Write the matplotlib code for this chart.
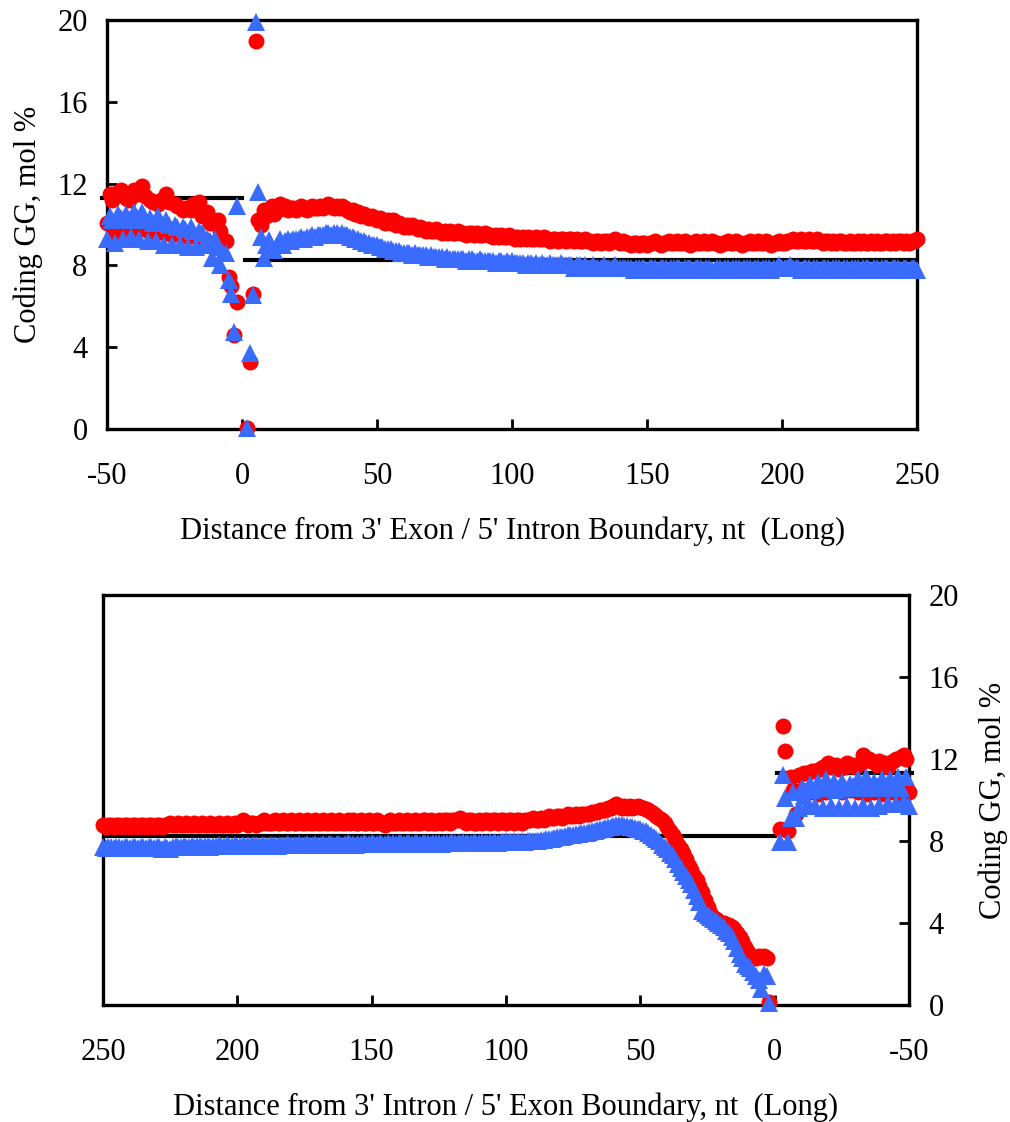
"""Coding GG near exon/intron boundaries (long introns)."""

import matplotlib
matplotlib.use("Agg")
import matplotlib.pyplot as plt

plt.rcParams["font.family"] = ["Liberation Serif", "DejaVu Serif"]
plt.rcParams["axes.unicode_minus"] = False

RED = "#FF0000"
BLUE = "#3A6BFF"

# ---------------- top panel: 3' exon / 5' intron ----------------
top_exon_x = list(range(-50, -1))
top_exon_red = [
    10.1, 11.5, 11.2, 9.5, 11.6, 11.7, 9.7, 11.3, 11.2, 9.6,
    11.7, 11.5, 9.8, 11.9, 11.4, 9.7, 11.2, 11.1, 9.6, 11.0,
    11.2, 9.6, 11.5, 11.1, 9.5, 11.0, 10.9, 9.5, 10.7, 10.8,
    9.4, 10.7, 11.0, 9.4, 11.1, 10.4, 9.3, 10.6, 10.1, 9.1,
    10.1, 10.2, 9.7, 9.2, 9.2, 7.45, 7.0, 4.6, 6.2,
]
top_exon_blue = [
    9.3, 10.4, 10.2, 9.1, 10.5, 10.3, 9.3, 10.5, 10.2, 9.4,
    10.6, 10.3, 9.3, 10.6, 10.2, 9.2, 10.3, 10.1, 9.2, 10.4,
    10.1, 9.0, 10.2, 10.0, 9.0, 10.0, 9.9, 9.0, 9.9, 9.8,
    8.9, 9.9, 9.7, 8.9, 9.7, 9.6, 9.0, 9.3, 9.2, 8.35,
    9.3, 8.9, 8.0, 8.6, 8.6, 7.3, 6.6, 4.75, 10.9,
]

top_intron_x = list(range(2, 251))
top_intron_red = [
    0.05, 3.3, 6.6, 19.0, 10.2, 10.0, 10.7, 10.4, 10.6, 10.9,
    10.5, 10.7, 11.0, 10.8, 10.9, 10.7, 10.8, 10.8, 10.7, 10.8,
    10.9, 10.8, 10.7, 10.8, 10.9, 10.8, 10.8, 10.9, 10.8, 10.9,
    11.0, 10.9, 10.8, 10.9, 10.8, 10.9, 10.8, 10.7, 10.6, 10.7,
    10.5, 10.6, 10.4, 10.5, 10.4, 10.3, 10.4, 10.3, 10.2, 10.3,
    10.2, 10.1, 10.2, 10.1, 10.2, 10.0, 10.1, 10.0, 9.9, 10.0,
    9.9, 10.0, 9.9, 9.8, 9.9, 9.8, 9.7, 9.8, 9.7, 9.7,
    9.8, 9.7, 9.6, 9.7, 9.6, 9.7, 9.6, 9.6, 9.7, 9.6,
    9.6, 9.5, 9.6, 9.6, 9.5, 9.6, 9.5, 9.5, 9.6, 9.5,
    9.5, 9.4, 9.5, 9.4, 9.5, 9.4, 9.4, 9.5, 9.4, 9.3,
    9.4, 9.3, 9.4, 9.3, 9.4, 9.3, 9.3, 9.4, 9.3, 9.3,
    9.4, 9.3, 9.2, 9.3, 9.3, 9.2, 9.3, 9.3, 9.2, 9.3,
    9.3, 9.2, 9.3, 9.2, 9.2, 9.3, 9.2, 9.2, 9.1, 9.2,
    9.2, 9.1, 9.2, 9.2, 9.1, 9.2, 9.3, 9.2, 9.1, 9.2,
    9.1, 9.1, 9.0, 9.1, 9.1, 9.0, 9.1, 9.1, 9.0, 9.1,
    9.1, 9.2, 9.1, 9.0, 9.1, 9.1, 9.2, 9.1, 9.1, 9.2,
    9.1, 9.1, 9.2, 9.1, 9.0, 9.1, 9.2, 9.1, 9.1, 9.2,
    9.1, 9.1, 9.2, 9.1, 9.1, 9.0, 9.1, 9.1, 9.2, 9.1,
    9.1, 9.2, 9.1, 9.0, 9.1, 9.1, 9.2, 9.1, 9.1, 9.2,
    9.1, 9.1, 9.2, 9.1, 9.0, 9.1, 9.1, 9.2, 9.1, 9.1,
    9.2, 9.2, 9.3, 9.2, 9.2, 9.3, 9.2, 9.2, 9.3, 9.2,
    9.2, 9.3, 9.2, 9.1, 9.2, 9.2, 9.1, 9.2, 9.1, 9.2,
    9.2, 9.1, 9.1, 9.2, 9.1, 9.1, 9.2, 9.1, 9.2, 9.1,
    9.1, 9.2, 9.1, 9.2, 9.1, 9.1, 9.2, 9.2, 9.1, 9.2,
    9.1, 9.2, 9.2, 9.1, 9.2, 9.1, 9.2, 9.2, 9.3,
]
top_intron_blue = [
    0.05, 3.7, 6.55, 19.9, 11.6, 9.4, 8.35, 9.0, 9.25, 8.8,
    8.75, 9.0, 9.3, 9.0, 9.2, 9.3, 9.2, 9.3, 9.3, 9.3,
    9.4, 9.3, 9.4, 9.4, 9.5, 9.4, 9.5, 9.5, 9.5, 9.6,
    9.6, 9.5, 9.6, 9.6, 9.5, 9.6, 9.5, 9.5, 9.4, 9.4,
    9.3, 9.3, 9.2, 9.2, 9.1, 9.1, 9.0, 9.0, 9.0, 8.9,
    8.9, 8.8, 8.8, 8.8, 8.7, 8.7, 8.7, 8.6, 8.6, 8.6,
    8.6, 8.5, 8.6, 8.5, 8.5, 8.5, 8.5, 8.4, 8.5, 8.4,
    8.4, 8.4, 8.4, 8.3, 8.4, 8.3, 8.3, 8.3, 8.3, 8.3,
    8.3, 8.2, 8.3, 8.3, 8.2, 8.2, 8.3, 8.2, 8.2, 8.2,
    8.2, 8.2, 8.1, 8.2, 8.2, 8.1, 8.2, 8.1, 8.2, 8.1,
    8.1, 8.1, 8.1, 8.0, 8.1, 8.1, 8.0, 8.1, 8.0, 8.1,
    8.0, 8.0, 8.1, 8.0, 8.0, 8.0, 8.1, 8.0, 8.0, 8.0,
    8.0, 7.9, 8.0, 8.0, 7.9, 8.0, 7.9, 7.9, 8.0, 7.9,
    7.9, 7.9, 8.0, 7.9, 7.9, 7.9, 8.0, 7.9, 7.9, 7.9,
    7.9, 7.9, 7.9, 7.8, 7.9, 7.9, 7.9, 7.9, 7.8, 7.9,
    7.9, 7.9, 7.8, 7.9, 7.9, 7.9, 7.8, 7.9, 7.9, 7.9,
    7.9, 7.8, 7.9, 7.9, 7.9, 7.8, 7.9, 7.9, 7.9, 7.8,
    7.9, 7.9, 7.8, 7.8, 7.9, 7.9, 7.8, 7.9, 7.9, 7.8,
    7.9, 7.9, 7.9, 7.8, 7.9, 7.9, 7.9, 7.8, 7.9, 7.9,
    7.8, 7.9, 7.9, 7.9, 7.8, 7.9, 7.9, 8.0, 7.9, 7.9,
    7.9, 8.0, 7.9, 7.9, 7.9, 7.8, 7.9, 7.9, 7.9, 7.8,
    7.9, 7.9, 7.8, 7.9, 7.9, 7.9, 7.8, 7.9, 7.9, 7.9,
    7.8, 7.9, 7.9, 7.8, 7.9, 7.9, 7.9, 7.8, 7.9, 7.9,
    7.9, 7.8, 7.9, 7.9, 7.8, 7.9, 7.9, 7.9, 7.8, 7.9,
    7.9, 7.9, 7.8, 7.9, 7.9, 7.8, 7.9, 7.9, 7.8,
]

# ---------------- bottom panel: 3' intron / 5' exon ----------------
bot_intron_x = list(range(2, 251))
bot_intron_red = [
    0.15, 2.3, 2.4, 2.35, 2.4, 2.3, 2.3, 2.4, 2.6, 2.85,
    3.1, 3.3, 3.5, 3.7, 3.8, 3.9, 3.9, 4.0, 4.0, 4.1,
    4.2, 4.3, 4.5, 4.8, 5.1, 5.5, 5.8, 6.1, 6.3, 6.6,
    6.8, 7.1, 7.4, 7.6, 7.8, 8.1, 8.3, 8.5, 8.7, 8.9,
    9.0, 9.1, 9.2, 9.3, 9.4, 9.5, 9.55, 9.6, 9.65, 9.7,
    9.65, 9.6, 9.7, 9.6, 9.7, 9.6, 9.7, 9.8, 9.7, 9.6,
    9.6, 9.5, 9.5, 9.5, 9.4, 9.4, 9.4, 9.3, 9.3, 9.3,
    9.3, 9.2, 9.3, 9.2, 9.2, 9.3, 9.2, 9.1, 9.2, 9.2,
    9.1, 9.1, 9.2, 9.1, 9.0, 9.1, 9.0, 9.0, 9.1, 9.0,
    9.0, 9.0, 8.9, 9.0, 9.0, 8.9, 9.0, 9.0, 8.9, 9.0,
    9.0, 8.9, 9.0, 9.0, 8.9, 9.0, 9.0, 8.9, 9.0, 8.9,
    8.9, 9.0, 9.0, 8.9, 9.0, 9.1, 9.0, 9.0, 9.0, 8.9,
    9.0, 9.0, 8.9, 9.0, 8.9, 8.9, 9.0, 8.9, 9.0, 9.0,
    8.9, 8.9, 9.0, 8.9, 8.9, 9.0, 8.9, 8.9, 9.0, 8.9,
    8.9, 9.0, 8.9, 8.8, 8.9, 8.9, 9.0, 8.9, 8.9, 9.0,
    8.9, 8.9, 9.0, 8.9, 8.9, 9.0, 8.9, 9.0, 8.9, 8.9,
    9.0, 8.9, 8.9, 9.0, 8.9, 8.9, 9.0, 8.9, 8.9, 9.0,
    8.9, 8.9, 9.0, 8.9, 8.9, 9.0, 8.9, 8.9, 9.0, 8.9,
    8.9, 9.0, 8.9, 8.9, 9.0, 8.9, 8.9, 8.9, 9.0, 8.9,
    8.9, 8.8, 8.9, 8.9, 8.8, 8.9, 9.0, 8.9, 8.8, 8.9,
    8.8, 8.8, 8.9, 8.8, 8.8, 8.9, 8.8, 8.8, 8.9, 8.8,
    8.8, 8.9, 8.8, 8.8, 8.9, 8.8, 8.8, 8.9, 8.8, 8.8,
    8.9, 8.8, 8.8, 8.9, 8.8, 8.8, 8.7, 8.8, 8.8, 8.7,
    8.8, 8.8, 8.7, 8.8, 8.8, 8.7, 8.8, 8.8, 8.7, 8.8,
    8.8, 8.7, 8.8, 8.8, 8.7, 8.8, 8.8, 8.7, 8.8,
]
bot_intron_blue = [
    0.1, 1.4, 1.5, 0.8, 1.2, 1.4, 1.6, 1.8, 1.9, 2.0,
    2.3, 2.5, 2.8, 3.1, 3.3, 3.5, 3.6, 3.8, 3.9, 4.0,
    4.1, 4.2, 4.3, 4.4, 4.5, 4.6, 5.0, 5.3, 5.6, 5.9,
    6.1, 6.3, 6.5, 6.7, 6.9, 7.1, 7.3, 7.4, 7.6, 7.7,
    7.8, 8.0, 8.1, 8.2, 8.3, 8.4, 8.5, 8.5, 8.6, 8.6,
    8.65, 8.7, 8.7, 8.75, 8.75, 8.8, 8.8, 8.8, 8.75, 8.7,
    8.7, 8.65, 8.6, 8.6, 8.55, 8.5, 8.5, 8.45, 8.4, 8.4,
    8.4, 8.35, 8.35, 8.3, 8.3, 8.3, 8.25, 8.2, 8.2, 8.2,
    8.15, 8.1, 8.1, 8.1, 8.05, 8.05, 8.0, 8.0, 8.0, 8.0,
    8.0, 7.95, 8.0, 7.95, 7.95, 8.0, 7.95, 7.95, 8.0, 7.95,
    7.95, 7.9, 7.95, 7.9, 7.95, 7.9, 7.9, 7.95, 7.9, 7.9,
    7.95, 7.9, 7.9, 7.9, 7.95, 7.9, 7.9, 7.9, 7.95, 7.9,
    7.9, 7.9, 7.85, 7.9, 7.9, 7.9, 7.85, 7.9, 7.9, 7.9,
    7.85, 7.9, 7.9, 7.85, 7.9, 7.9, 7.85, 7.9, 7.9, 7.85,
    7.9, 7.85, 7.9, 7.85, 7.85, 7.9, 7.85, 7.85, 7.9, 7.85,
    7.85, 7.9, 7.85, 7.85, 7.8, 7.85, 7.85, 7.9, 7.85, 7.8,
    7.85, 7.85, 7.8, 7.85, 7.85, 7.8, 7.85, 7.8, 7.8, 7.85,
    7.8, 7.8, 7.85, 7.8, 7.8, 7.85, 7.8, 7.8, 7.8, 7.85,
    7.8, 7.8, 7.8, 7.75, 7.8, 7.8, 7.8, 7.75, 7.8, 7.8,
    7.75, 7.8, 7.8, 7.75, 7.8, 7.75, 7.8, 7.75, 7.75, 7.8,
    7.75, 7.75, 7.8, 7.75, 7.75, 7.8, 7.75, 7.75, 7.7, 7.75,
    7.75, 7.7, 7.75, 7.75, 7.7, 7.75, 7.7, 7.7, 7.75, 7.7,
    7.7, 7.75, 7.7, 7.6, 7.65, 7.7, 7.6, 7.7, 7.7, 7.65,
    7.7, 7.7, 7.65, 7.7, 7.7, 7.65, 7.7, 7.7, 7.65, 7.7,
    7.7, 7.65, 7.7, 7.7, 7.65, 7.7, 7.7, 7.65, 7.7,
]

bot_exon_x = list(range(-2, -51, -1))
bot_exon_red = [
    8.6, 13.6, 12.4, 8.5, 11.1, 10.5, 9.3, 11.2, 10.5, 11.3,
    11.3, 10.4, 11.4, 11.4, 10.3, 11.5, 11.6, 10.4, 11.8, 11.6,
    10.5, 11.7, 11.5, 10.4, 11.6, 11.8, 10.5, 11.7, 11.6, 10.4,
    11.8, 12.2, 10.3, 12.0, 11.9, 10.4, 11.7, 11.9, 10.3, 11.8,
    11.6, 10.4, 11.9, 12.0, 10.3, 12.1, 12.2, 12.0, 10.4,
]
bot_exon_blue = [
    7.95, 11.2, 10.1, 7.95, 9.1, 10.4, 9.1, 9.6, 10.6, 10.2,
    9.7, 10.8, 10.5, 9.7, 10.9, 10.6, 9.6, 11.0, 10.6, 9.7,
    10.9, 10.5, 9.6, 10.9, 10.6, 9.7, 10.8, 10.7, 9.6, 11.0,
    10.6, 9.7, 11.1, 10.6, 9.6, 10.9, 10.7, 9.7, 11.0, 10.6,
    9.8, 11.0, 10.7, 9.8, 11.1, 10.6, 9.9, 11.1, 9.7,
]

exon_mean = 11.3
intron_mean = 8.25

yticks = [0, 4, 8, 12, 16, 20]
ylabel = "Coding GG, mol %"
top_xlabel = "Distance from 3' Exon / 5' Intron Boundary, nt  (Long)"
bot_xlabel = "Distance from 3' Intron / 5' Exon Boundary, nt  (Long)"


def style(ax):
    for s in ax.spines.values():
        s.set_linewidth(2.4)
    ax.set_ylim(0, 20)
    ax.set_yticks(yticks)
    ax.tick_params(direction="in", length=7, width=2, labelsize=22)
    ax.tick_params(axis="x", pad=24)
    ax.tick_params(axis="y", pad=14)


def points(ax, xe, re, be, xi, ri, bi):
    kw = dict(linestyle="none", clip_on=False)
    ax.plot(xe, re, "o", color=RED, ms=11.5, mew=0, zorder=3, **kw)
    ax.plot(xi, ri, "o", color=RED, ms=11.5, mew=0, zorder=3, **kw)
    ax.plot(xe, be, "^", color=BLUE, ms=12.5, mew=0, zorder=4, **kw)
    ax.plot(xi, bi, "^", color=BLUE, ms=12.5, mew=0, zorder=4, **kw)


fig = plt.figure(figsize=(10.1, 11.22), dpi=100)

ax1 = fig.add_axes([0.106, 0.6176, 0.802, 0.3645])
style(ax1)
ax1.set_xlim(-50, 250)
ax1.set_xticks([-50, 0, 50, 100, 150, 200, 250])
ax1.plot([-52, 0], [exon_mean, exon_mean], color="black", lw=3, zorder=2, clip_on=False)
ax1.plot([1, 250], [intron_mean, intron_mean], color="black", lw=3, zorder=2)
points(ax1, top_exon_x, top_exon_red, top_exon_blue,
       top_intron_x, top_intron_red, top_intron_blue)
ax1.set_ylabel(ylabel, fontsize=22, labelpad=10)
ax1.set_xlabel(top_xlabel, fontsize=22, labelpad=18)

ax2 = fig.add_axes([0.102, 0.1043, 0.798, 0.3654])
style(ax2)
ax2.set_xlim(250, -50)
ax2.set_xticks([250, 200, 150, 100, 50, 0, -50])
ax2.yaxis.tick_right()
ax2.yaxis.set_label_position("right")
ax2.plot([250, 0], [intron_mean, intron_mean], color="black", lw=3, zorder=2)
ax2.plot([-1, -51], [exon_mean, exon_mean], color="black", lw=3, zorder=2, clip_on=False)
points(ax2, bot_exon_x, bot_exon_red, bot_exon_blue,
       bot_intron_x, bot_intron_red, bot_intron_blue)
ax2.set_ylabel(ylabel, fontsize=22, labelpad=14)
ax2.set_xlabel(bot_xlabel, fontsize=22, labelpad=18)

fig.savefig("out.png", dpi=100)
